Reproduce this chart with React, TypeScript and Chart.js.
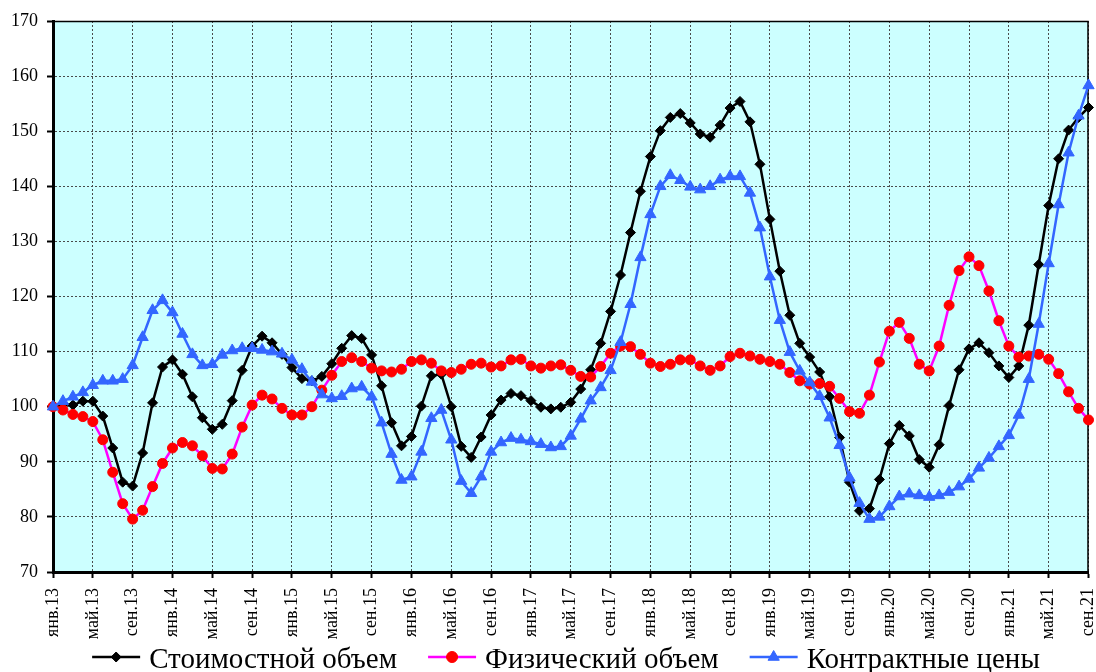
import React, { useEffect, useRef } from "react";
import { Chart, registerables } from "chart.js";

Chart.register(...registerables);

const monthAbbr = ["янв", "фев", "мар", "апр", "май", "июн", "июл", "авг", "сен", "окт", "ноя", "дек"];
const yearLabels = ["13", "14", "15", "16", "17", "18", "19", "20", "21"];
const lastMonthCount = 9; // 2021: янв..сен

const categories: string[] = [];
yearLabels.forEach((y, yi) => {
  const n = yi === yearLabels.length - 1 ? lastMonthCount : 12;
  for (let m = 0; m < n; m++) categories.push(`${monthAbbr[m]}.${y}`);
});

const seriesNames = ["Стоимостной объем", "Физический объем", "Контрактные цены"];

const valueIndex = [
  100, 100.5, 100.3, 101.0, 101.0, 98.3, 92.5, 86.3, 85.6, 91.6,
  100.7, 107.2, 108.5, 105.9, 101.8, 98.0, 95.9, 96.8, 101.1, 106.6,
  111.0, 112.8, 111.6, 109.5, 107.1, 105.1, 104.7, 105.5, 107.8, 110.6,
  112.9, 112.4, 109.4, 103.8, 97.1, 92.9, 94.6, 100.1, 105.6, 105.9,
  100.0, 92.8, 90.8, 94.5, 98.5, 101.2, 102.4, 102.0, 101.1, 99.9,
  99.6, 99.9, 100.8, 103.2, 106.7, 111.5, 117.3, 123.9, 131.6, 139.1,
  145.4, 150.1, 152.5, 153.2, 151.5, 149.5, 148.9, 151.1, 154.2, 155.4,
  151.7, 144.0, 134.0, 124.6, 116.6, 111.5, 109.0, 106.3, 101.8, 94.4,
  86.3, 81.1, 81.5, 86.8, 93.3, 96.6, 94.7, 90.4, 89.0, 93.1,
  100.2, 106.7, 110.5, 111.6, 109.8, 107.4, 105.3, 107.4, 114.8, 125.8,
  136.5, 145.0, 150.2, 152.5, 154.3,
];

const volumeIndex = [
  100, 99.4, 98.6, 98.2, 97.3, 94.0, 88.1, 82.4, 79.6, 81.2,
  85.5, 89.7, 92.5, 93.5, 92.9, 91.1, 88.8, 88.7, 91.4, 96.3,
  100.3, 102.1, 101.4, 99.7, 98.5, 98.5, 100.0, 103.0, 105.7, 108.2,
  108.9, 108.2, 107.0, 106.5, 106.3, 106.8, 108.2, 108.5, 107.9, 106.5,
  106.2, 106.8, 107.7, 107.9, 107.2, 107.4, 108.5, 108.6, 107.4, 107.0,
  107.4, 107.6, 106.6, 105.5, 105.4, 107.3, 109.7, 111.0, 110.9, 109.5,
  107.9, 107.3, 107.7, 108.5, 108.5, 107.4, 106.6, 107.4, 109.1, 109.7,
  109.2, 108.6, 108.2, 107.7, 106.2, 104.7, 104.1, 104.2, 103.7, 101.5,
  99.1, 98.8, 102.1, 108.1, 113.7, 115.3, 112.4, 107.7, 106.5, 111.0,
  118.4, 124.7, 127.2, 125.6, 121.0, 115.6, 111.0, 109.0, 109.2, 109.5,
  108.6, 106.0, 102.7, 99.7, 97.6,
];

const priceIndex = [
  100, 101.0, 101.8, 102.6, 103.9, 104.7, 104.7, 105.0, 107.5, 112.6,
  117.5, 119.3, 117.1, 113.2, 109.5, 107.5, 107.7, 109.4, 110.2, 110.6,
  110.6, 110.3, 110.0, 109.6, 108.5, 106.8, 104.5, 102.2, 101.5, 101.9,
  103.3, 103.6, 101.8, 97.1, 91.4, 86.7, 87.3, 91.8, 97.9, 99.4,
  94.0, 86.5, 84.3, 87.3, 91.8, 93.5, 94.3, 94.0, 93.7, 93.2,
  92.6, 92.8, 94.7, 97.8, 101.1, 103.5, 106.6, 111.7, 118.6, 127.1,
  134.9, 140.0, 142.0, 141.1, 139.9, 139.4, 140.0, 141.2, 141.8, 141.8,
  138.8, 132.5, 123.6, 115.7, 109.9, 106.5, 104.4, 101.9, 98.0, 93.0,
  87.1, 82.5, 79.6, 80.0, 81.9, 83.7, 84.2, 83.9, 83.6, 83.9,
  84.5, 85.5, 86.9, 88.9, 90.7, 92.8, 94.8, 98.5, 105.0, 115.0,
  126.0, 136.7, 146.1, 152.8, 158.3,
];

const yMin = 70;
const yMax = 170;
const yStep = 10;
const labelEvery = 4;

const FONT = "'Liberation Serif', 'Times New Roman', serif";
const PLOT_BG = "#CCFFFF";
const GRID = "#4a4a4a";
const BLACK = "#000000";
const MAGENTA = "#FF00FF";
const RED = "#FF0000";
const BLUE = "#3366FF";

function drawMarker(ctx: CanvasRenderingContext2D, style: string, x: number, y: number, r: number, color: string) {
  ctx.save();
  ctx.fillStyle = color;
  ctx.strokeStyle = color;
  ctx.lineWidth = 1;
  ctx.beginPath();
  if (style === "rectRot") {
    ctx.moveTo(x, y - r);
    ctx.lineTo(x + r, y);
    ctx.lineTo(x, y + r);
    ctx.lineTo(x - r, y);
    ctx.closePath();
  } else if (style === "circle") {
    ctx.arc(x, y, r, 0, Math.PI * 2);
  } else {
    ctx.moveTo(x, y - r);
    ctx.lineTo(x + r * 0.866, y + r / 2);
    ctx.lineTo(x - r * 0.866, y + r / 2);
    ctx.closePath();
  }
  ctx.fill();
  ctx.stroke();
  ctx.restore();
}

export default function App() {
  const canvasRef = useRef<HTMLCanvasElement | null>(null);

  useEffect(() => {
    document.body.style.margin = "0";
    const canvas = canvasRef.current;
    if (!canvas) return;

    const legendItems = [
      { label: seriesNames[0], line: BLACK, marker: BLACK, style: "rectRot", r: 5 },
      { label: seriesNames[1], line: MAGENTA, marker: RED, style: "circle", r: 5.5 },
      { label: seriesNames[2], line: BLUE, marker: BLUE, style: "triangle", r: 6.5 },
    ];

    const bgPlugin = {
      id: "plotBg",
      beforeDraw(chart: any) {
        const { ctx, chartArea: a } = chart;
        ctx.save();
        ctx.fillStyle = PLOT_BG;
        ctx.fillRect(a.left, a.top, a.right - a.left, a.bottom - a.top);
        ctx.restore();
      },
      beforeDatasetsDraw(chart: any) {
        const { ctx, chartArea: a } = chart;
        ctx.save();
        ctx.strokeStyle = BLACK;
        ctx.lineWidth = 1.5;
        ctx.beginPath();
        ctx.moveTo(a.left, a.top + 0.5);
        ctx.lineTo(a.right - 0.5, a.top + 0.5);
        ctx.lineTo(a.right - 0.5, a.bottom);
        ctx.stroke();
        ctx.restore();
      },
    };

    const legendPlugin = {
      id: "lineLegend",
      afterDraw(chart: any) {
        const ctx: CanvasRenderingContext2D = chart.ctx;
        ctx.save();
        ctx.font = `29px ${FONT}`;
        const lineLen = 48;
        const gap = 9;
        const itemGap = 31;
        const widths = legendItems.map((it) => ctx.measureText(it.label).width);
        const total = widths.reduce((s, w) => s + lineLen + gap + w, 0) + itemGap * (legendItems.length - 1);
        let x = 566 - total / 2;
        const yLine = 657;
        const yText = 668;
        legendItems.forEach((it, i) => {
          ctx.strokeStyle = it.line;
          ctx.lineWidth = 2.5;
          ctx.beginPath();
          ctx.moveTo(x, yLine);
          ctx.lineTo(x + lineLen, yLine);
          ctx.stroke();
          drawMarker(ctx, it.style, x + lineLen / 2, yLine, it.r, it.marker);
          ctx.fillStyle = BLACK;
          ctx.textAlign = "left";
          ctx.textBaseline = "alphabetic";
          ctx.fillText(it.label, x + lineLen + gap, yText);
          x += lineLen + gap + widths[i] + itemGap;
        });
        ctx.restore();
      },
    };

    const chart = new Chart(canvas, {
      type: "line",
      data: {
        labels: categories,
        datasets: [
          {
            label: seriesNames[0],
            data: valueIndex,
            borderColor: BLACK,
            backgroundColor: BLACK,
            borderWidth: 2.5,
            pointStyle: "rectRot",
            pointRadius: 5,
            pointBorderWidth: 1,
            pointBackgroundColor: BLACK,
            pointBorderColor: BLACK,
            tension: 0,
            clip: false,
            order: 3,
          },
          {
            label: seriesNames[1],
            data: volumeIndex,
            borderColor: MAGENTA,
            backgroundColor: RED,
            borderWidth: 2.5,
            pointStyle: "circle",
            pointRadius: 5,
            pointBorderWidth: 1,
            pointBackgroundColor: RED,
            pointBorderColor: RED,
            tension: 0,
            clip: false,
            order: 2,
          },
          {
            label: seriesNames[2],
            data: priceIndex,
            borderColor: BLUE,
            backgroundColor: BLUE,
            borderWidth: 2.5,
            pointStyle: "triangle",
            pointRadius: 6.5,
            pointBorderWidth: 1,
            pointBackgroundColor: BLUE,
            pointBorderColor: BLUE,
            tension: 0,
            clip: false,
            order: 1,
          },
        ],
      },
      options: {
        responsive: true,
        maintainAspectRatio: false,
        animation: false,
        events: [],
        layout: { padding: { top: 21, right: 3, left: 0, bottom: 0 } },
        plugins: {
          legend: { display: false },
          tooltip: { enabled: false },
          title: { display: false },
        },
        scales: {
          x: {
            type: "category",
            offset: false,
            afterFit(scale: any) {
              scale.height = 100;
              scale.paddingLeft = 0;
              scale.paddingRight = 0;
            },
            border: { display: true, color: BLACK, width: 3, dash: [2, 2] },
            grid: {
              display: true,
              drawOnChartArea: true,
              drawTicks: true,
              tickLength: 6,
              color: (c: any) => (c.index % labelEvery === 0 ? GRID : "rgba(0,0,0,0)"),
              lineWidth: (c: any) => (c.index % labelEvery === 0 ? 1 : 0),
              tickColor: BLACK,
              tickWidth: (c: any) => (c.index % labelEvery === 0 ? 2 : 0),
              tickBorderDash: [],
            },
            ticks: {
              autoSkip: false,
              minRotation: 90,
              maxRotation: 90,
              padding: 10,
              color: BLACK,
              font: { family: FONT, size: 18 },
              callback: (_v: any, i: number) => (i % labelEvery === 0 ? categories[i] : ""),
            },
          },
          y: {
            min: yMin,
            max: yMax,
            afterFit(scale: any) {
              scale.width = 53;
            },
            border: { display: true, color: BLACK, width: 3, dash: [2, 2] },
            grid: {
              color: GRID,
              lineWidth: 1,
              tickLength: 6,
              tickColor: BLACK,
              tickWidth: 2,
              tickBorderDash: [],
            },
            ticks: {
              stepSize: yStep,
              padding: 9,
              color: BLACK,
              font: { family: FONT, size: 18 },
            },
          },
        },
      },
      plugins: [bgPlugin, legendPlugin],
    } as any);

    return () => chart.destroy();
  }, []);

  return (
    <div style={{ position: "relative", width: 1096, height: 672 }}>
      <canvas ref={canvasRef} />
    </div>
  );
}
